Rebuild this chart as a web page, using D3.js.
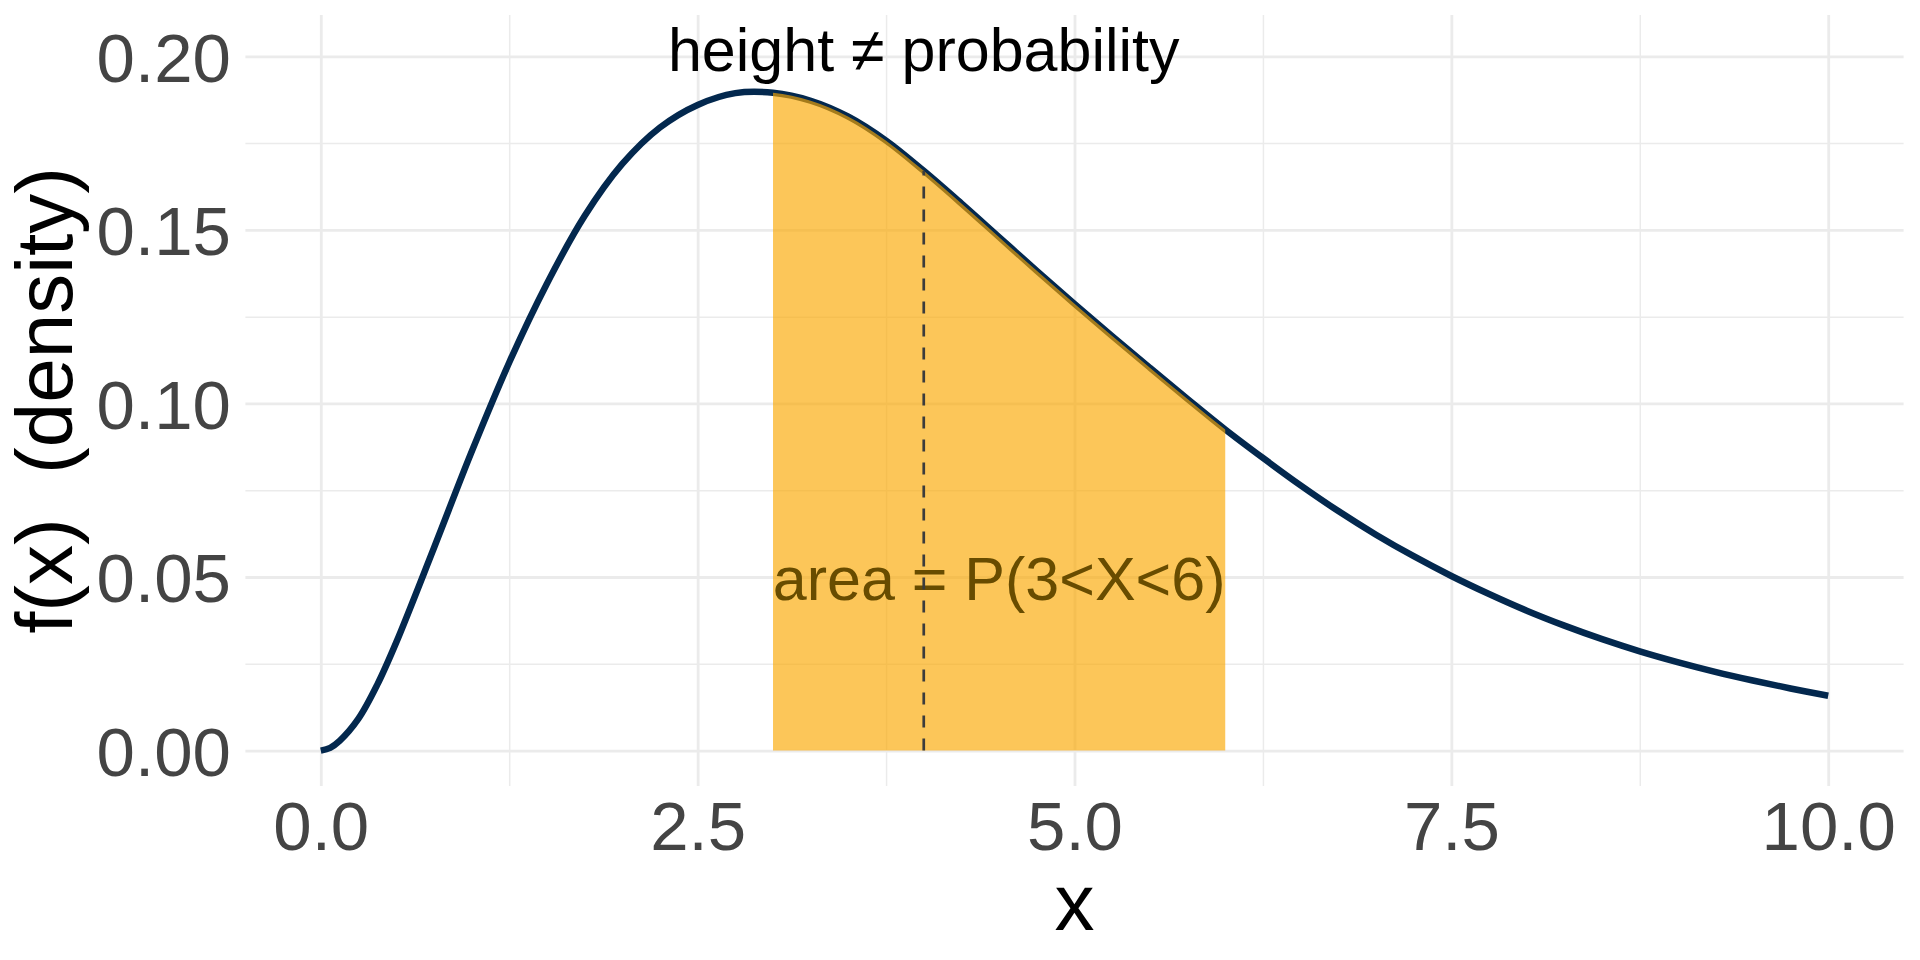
<!DOCTYPE html>
<html>
<head>
<meta charset="utf-8">
<script src="https://cdn.jsdelivr.net/npm/d3@7"></script>
<style>
  html, body { margin: 0; padding: 0; background: #fff; }
  svg { display: block; font-family: 'Liberation Sans', Arial, sans-serif; }
</style>
</head>
<body>
<svg id="chart" width="1920" height="960"></svg>
<script>
'use strict';
// density curve
const X_VALUES = [
  0, 0.0625, 0.125, 0.25, 0.375, 0.5, 0.75, 1, 1.25, 1.5, 1.75, 2, 2.25, 2.5,
  2.75, 3, 3.25, 3.5, 3.75, 4, 4.25, 4.5, 4.75, 5, 5.25, 5.5, 5.75, 6, 6.25,
  6.5, 6.75, 7, 7.25, 7.5, 7.75, 8, 8.25, 8.5, 8.75, 9, 9.25, 9.5, 9.75, 10,
];
const DENSITY = [
  0, 0.0008, 0.0028, 0.0092, 0.019, 0.0311, 0.0583, 0.086, 0.1118, 0.1345,
  0.154, 0.169, 0.1795, 0.186, 0.1894, 0.1895, 0.1872, 0.1826, 0.1757, 0.167,
  0.1576, 0.1479, 0.1382, 0.1287, 0.1194, 0.1103, 0.1013, 0.0925, 0.0843,
  0.0764, 0.069, 0.0622, 0.056, 0.0503, 0.0451, 0.0403, 0.036, 0.0321,
  0.0286, 0.0255, 0.0227, 0.0202, 0.0179, 0.0158,
];
const SHADE_RANGE = [3, 6];
const MARK_X = 4;
const X_TICKS = [0, 2.5, 5, 7.5, 10];
const X_MINOR = [1.25, 3.75, 6.25, 8.75];
const Y_TICKS = [0, 0.05, 0.1, 0.15, 0.2];
const Y_MINOR = [0.025, 0.075, 0.125, 0.175];
const LABELS = [
  { text: 'height \u2260 probability', x: 4, y: 0.2024, color: '#000' },
  { text: 'area = P(3<X<6)', x: 4.5, y: 0.05, color: '#684c00' },
];

document.addEventListener('DOMContentLoaded', drawChart, false);

function drawChart() {
  const data = X_VALUES.map((x, i) => ({ x, y: DENSITY[i] }));
  const svg = d3.select('#chart');
  const panel = { left: 245.4, right: 1903.6, top: 15, bottom: 786 };

  let x = d3.scaleLinear().domain([-0.5, 10.5]).range([panel.left, panel.right]);
  let y = d3.scaleLinear().domain([-0.0102, 0.2119]).range([panel.bottom, panel.top]);

  svg.append('rect').attr('width', 1920).attr('height', 960).attr('fill', '#fff');

  // grid (minor first, then major)
  let grid = (g, width) =>
    g
      .call((g) => g.select('.domain').remove())
      .call((g) => g.selectAll('.tick text').remove())
      .call((g) =>
        g.selectAll('.tick line').attr('stroke', '#ebebeb').attr('stroke-width', width)
      );

  svg.append('g')
    .attr('transform', `translate(0,${panel.bottom})`)
    .call(d3.axisBottom(x).tickValues(X_MINOR).tickSize(-(panel.bottom - panel.top)))
    .call(grid, 1.5);
  svg.append('g')
    .attr('transform', `translate(${panel.left},0)`)
    .call(d3.axisLeft(y).tickValues(Y_MINOR).tickSize(-(panel.right - panel.left)))
    .call(grid, 1.5);
  svg.append('g')
    .attr('transform', `translate(0,${panel.bottom})`)
    .call(d3.axisBottom(x).tickValues(X_TICKS).tickSize(-(panel.bottom - panel.top)))
    .call(grid, 2.8);
  svg.append('g')
    .attr('transform', `translate(${panel.left},0)`)
    .call(d3.axisLeft(y).tickValues(Y_TICKS).tickSize(-(panel.right - panel.left)))
    .call(grid, 2.8);

  // tick labels
  let tickText = (g) =>
    g
      .call((g) => g.select('.domain').remove())
      .call((g) => g.selectAll('.tick line').remove())
      .call((g) =>
        g.selectAll('.tick text')
          .attr('fill', '#444')
          .style('font-size', '69px')
          .style('font-family', "'Liberation Sans', Arial, sans-serif")
      );

  svg.append('g')
    .attr('transform', `translate(0,${panel.bottom})`)
    .call(d3.axisBottom(x).tickValues(X_TICKS).tickFormat(d3.format('.1f')).tickSize(0).tickPadding(15))
    .call(tickText);
  svg.append('g')
    .attr('transform', `translate(${panel.left},0)`)
    .call(d3.axisLeft(y).tickValues(Y_TICKS).tickFormat(d3.format('.2f')).tickSize(0).tickPadding(14.5))
    .call(tickText)
    .call((g) => g.selectAll('.tick text').attr('dy', '0.36em'));

  // curve
  let line = d3.line()
    .x((d) => x(d.x))
    .y((d) => y(d.y))
    .curve(d3.curveCatmullRom.alpha(0.5));

  svg.append('path')
    .datum(data)
    .attr('fill', 'none')
    .attr('stroke', '#03284e')
    .attr('stroke-width', 6.5)
    .attr('d', line);

  // shaded area between SHADE_RANGE, clipped from the same curve
  svg.append('clipPath')
    .attr('id', 'shade-clip')
    .append('rect')
    .attr('x', x(SHADE_RANGE[0]))
    .attr('y', 0)
    .attr('width', x(SHADE_RANGE[1]) - x(SHADE_RANGE[0]))
    .attr('height', 960);

  let area = d3.area()
    .x((d) => x(d.x))
    .y0(y(0))
    .y1((d) => y(d.y))
    .curve(d3.curveCatmullRom.alpha(0.5));

  svg.append('path')
    .datum(data)
    .attr('clip-path', 'url(#shade-clip)')
    .attr('fill', '#fba800')
    .attr('fill-opacity', 0.65)
    .attr('d', area);

  // annotations
  svg.append('g')
    .selectAll('text')
    .data(LABELS)
    .enter()
    .append('text')
    .attr('x', (d) => x(d.x))
    .attr('y', (d) => y(d.y))
    .attr('dy', '0.38em')
    .attr('text-anchor', 'middle')
    .attr('fill', (d) => d.color)
    .style('font-size', '61px')
    .text((d) => d.text);

  // dashed marker at MARK_X
  let markY = DENSITY[X_VALUES.indexOf(MARK_X)];
  svg.append('line')
    .attr('x1', x(MARK_X))
    .attr('x2', x(MARK_X))
    .attr('y1', y(0))
    .attr('y2', y(markY))
    .attr('stroke', '#3c3c3c')
    .attr('stroke-width', 2.7)
    .attr('stroke-dasharray', '12,11');

  // axis titles
  svg.append('text')
    .attr('x', x(5))
    .attr('y', 930)
    .attr('text-anchor', 'middle')
    .attr('fill', '#000')
    .style('font-size', '80px')
    .text('x');

  svg.append('text')
    .attr('transform', `translate(72,${(panel.top + panel.bottom) / 2}) rotate(-90)`)
    .attr('text-anchor', 'middle')
    .attr('fill', '#000')
    .style('font-size', '80px')
    .style('white-space', 'pre')
    .text('f(x)  (density)');
}
</script>
</body>
</html>
